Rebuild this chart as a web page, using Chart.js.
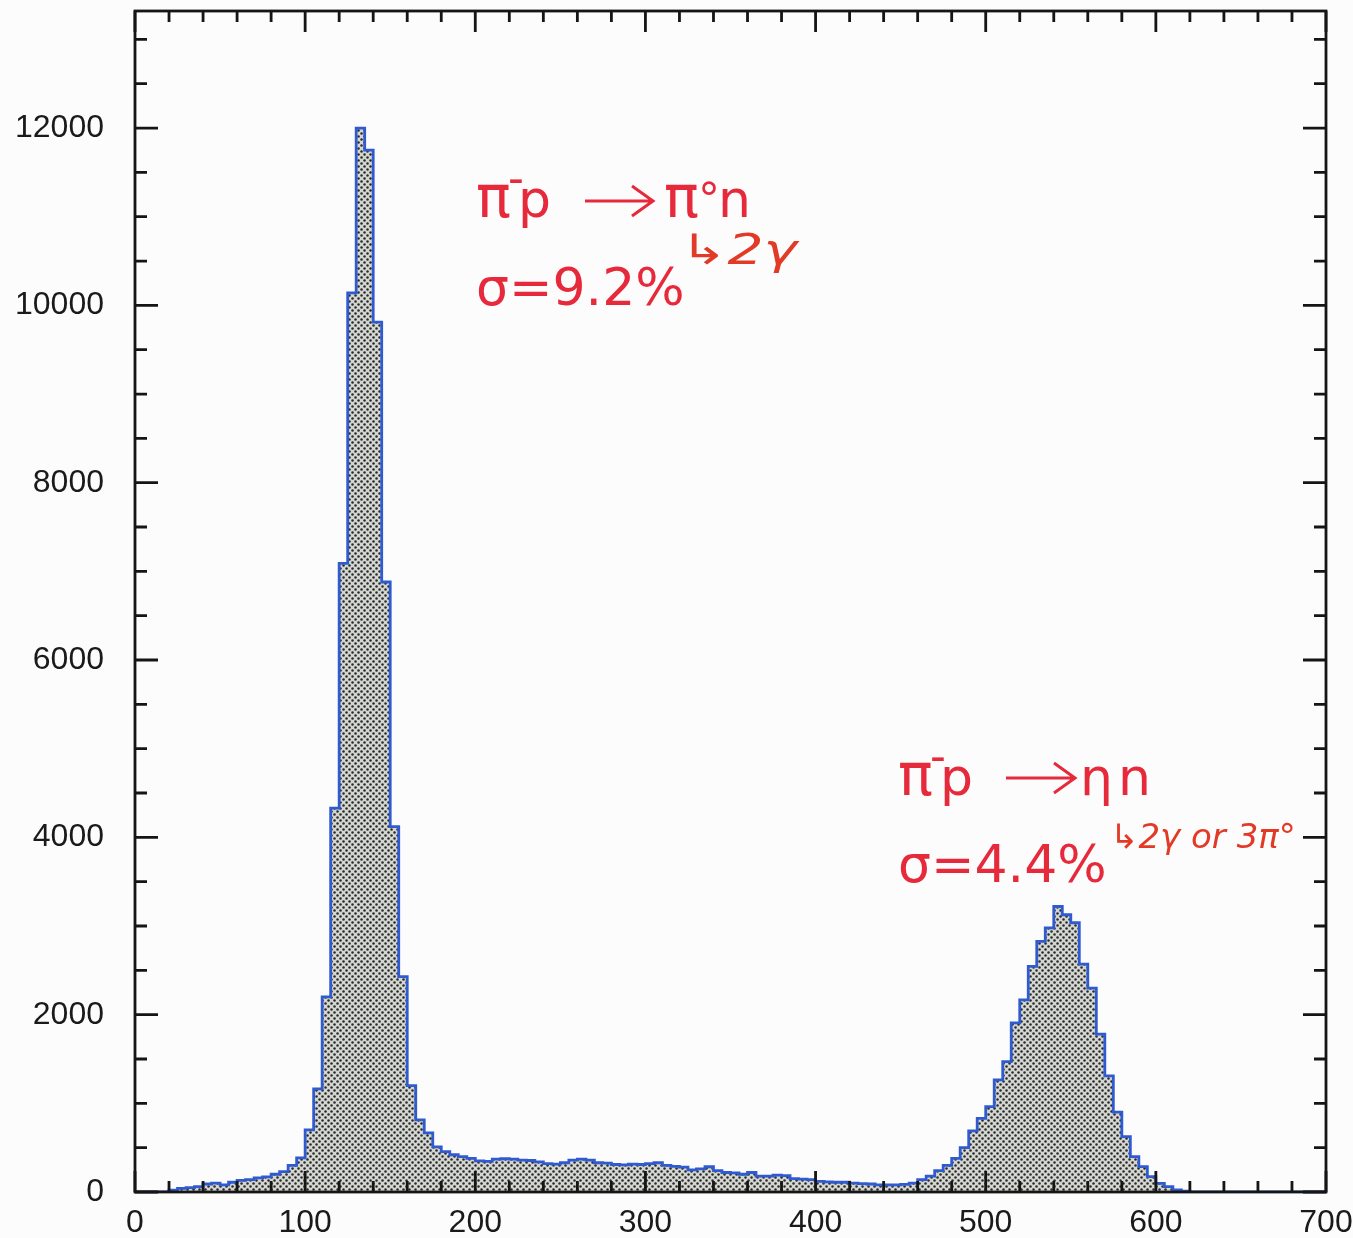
<!DOCTYPE html>
<html>
<head>
<meta charset="utf-8">
<script src="https://cdn.jsdelivr.net/npm/chart.js@4.4.1/dist/chart.umd.min.js"></script>
<style>
  html, body { margin: 0; padding: 0; background: #fdfcfc; }
  #wrap { width: 1353px; height: 1238px; }
</style>
</head>
<body>
<div id="wrap"><canvas id="histo" width="1353" height="1238"></canvas></div>
<script>
// bin width in MeV-ish units, bins start at 0
const BIN_WIDTH = 5;
const X_MAX = 700;
const Y_MAX = 13320;

// counts per bin, 10 bins (50 units) per row
const counts = [
  0, 0, 0, 0, 20, 40, 50, 60, 90, 100,
  80, 110, 130, 140, 160, 170, 200, 230, 300, 384,
  700, 1163, 2200, 4330, 7090, 10140, 12000, 11750, 9810, 6880,
  4120, 2430, 1200, 813, 666, 510, 455, 420, 400, 380,
  350, 345, 370, 375, 370, 360, 355, 340, 320, 315,
  330, 360, 370, 360, 330, 325, 310, 305, 315, 310,
  320, 330, 300, 290, 280, 250, 260, 285, 240, 220,
  215, 200, 220, 180, 180, 190, 185, 150, 145, 140,
  120, 115, 110, 110, 100, 95, 90, 80, 80, 80,
  85, 100, 140, 180, 240, 300, 380, 500, 690, 830,
  963, 1264, 1471, 1907, 2168, 2544, 2826, 2980, 3220, 3127,
  3037, 2570, 2300, 1780, 1310, 900, 624, 400, 286, 173,
  98, 60, 23, 10, 0, 0, 0, 0, 0, 0,
  0, 0, 0, 0, 0, 0, 0, 0, 0, 0
];

const xTickLabels = [0, 100, 200, 300, 400, 500, 600, 700];
const yTickLabels = [0, 2000, 4000, 6000, 8000, 10000, 12000];

// one point per left bin edge, plus the closing right edge
const points = counts.map((c, i) => ({ x: i * BIN_WIDTH, y: c }));
points.push({ x: counts.length * BIN_WIDTH, y: counts[counts.length - 1] });

function dotPattern() {
  const c = document.createElement("canvas");
  c.width = 6; c.height = 6;
  const g = c.getContext("2d");
  g.fillStyle = "#d3d7ce";
  g.fillRect(0, 0, 6, 6);
  g.fillStyle = "#2a2732";
  [[1.5, 1.5], [4.5, 4.5]].forEach(([x, y]) => {
    g.beginPath();
    g.arc(x, y, 1.25, 0, Math.PI * 2);
    g.fill();
  });
  return g.createPattern(c, "repeat");
}

// frame with inward ticks on all four sides
const frameTicks = {
  id: "frameTicks",
  afterDatasetsDraw(chart) {
    const { ctx, chartArea: a, scales: { x, y } } = chart;
    ctx.save();
    ctx.strokeStyle = "#151515";
    ctx.lineWidth = 2.8;
    ctx.strokeRect(a.left, a.top, a.right - a.left, a.bottom - a.top);
    ctx.beginPath();
    for (let v = 0; v <= X_MAX; v += 20) {
      const px = x.getPixelForValue(v);
      const len = v % 100 === 0 ? 21 : 11;
      ctx.moveTo(px, a.bottom); ctx.lineTo(px, a.bottom - len);
      ctx.moveTo(px, a.top); ctx.lineTo(px, a.top + len);
    }
    for (let v = 0; v <= Y_MAX; v += 500) {
      const py = y.getPixelForValue(v);
      const len = v % 2000 === 0 ? 23 : 12;
      ctx.moveTo(a.left, py); ctx.lineTo(a.left + len, py);
      ctx.moveTo(a.right, py); ctx.lineTo(a.right - len, py);
    }
    ctx.stroke();
    ctx.restore();
  }
};

// reaction labels written on the plot
const notes = {
  id: "notes",
  afterDraw(chart) {
    const ctx = chart.ctx;
    const red = "#e62a3c";
    const hand = "#e23a26";
    ctx.save();
    ctx.strokeStyle = red;
    ctx.textBaseline = "alphabetic";
    const big = "52px 'DejaVu Sans'";
    const pi = "58px 'DejaVu Sans'";
    function txt(s, x, yy, font, color) {
      ctx.font = font;
      ctx.fillStyle = color || red;
      ctx.fillText(s, x, yy);
    }
    function arrow(x0, x1, yy) {
      ctx.lineWidth = 3;
      ctx.beginPath();
      ctx.moveTo(x0, yy); ctx.lineTo(x1, yy);
      ctx.moveTo(x1 - 21, yy - 15); ctx.lineTo(x1, yy); ctx.lineTo(x1 - 21, yy + 15);
      ctx.stroke();
    }
    // pi- p -> pi0 n
    txt("π", 476, 217, pi);
    txt("-", 508, 193, "44px 'DejaVu Sans'");
    txt("p", 518, 217, big);
    arrow(585, 653, 201);
    txt("π", 664, 217, pi);
    txt("°", 698, 214, "44px 'DejaVu Sans'");
    txt("n", 718, 217, big);
    txt("σ=9.2%", 476, 305, big);
    ctx.save();
    ctx.translate(680, 264);
    ctx.scale(1.35, 1);
    txt("↳2γ", 0, 0, "italic 42px 'DejaVu Sans'", hand);
    ctx.restore();

    // pi- p -> eta n
    txt("π", 898, 795, pi);
    txt("-", 930, 771, "44px 'DejaVu Sans'");
    txt("p", 940, 795, big);
    arrow(1006, 1075, 778);
    txt("η", 1080, 795, big);
    txt("n", 1118, 795, big);
    txt("σ=4.4%", 898, 882, big);
    txt("↳2γ or 3π°", 1110, 848, "italic 34px 'DejaVu Sans'", hand);
    ctx.restore();
  }
};

const tickFont = { family: "'Liberation Sans', Arial, sans-serif", size: 32 };

new Chart(document.getElementById("histo"), {
  type: "line",
  data: {
    datasets: [{
      data: points,
      stepped: "before",
      fill: "origin",
      backgroundColor: dotPattern(),
      borderColor: "#2f5ad0",
      borderWidth: 2.8,
      pointRadius: 0
    }]
  },
  options: {
    responsive: false,
    animation: false,
    devicePixelRatio: 1,
    layout: { padding: { top: 11, right: 27, left: 0, bottom: 0 } },
    plugins: { legend: { display: false }, tooltip: { enabled: false } },
    scales: {
      x: {
        type: "linear",
        min: 0,
        max: X_MAX,
        grid: { display: false, drawTicks: false },
        border: { display: false },
        afterFit: s => { s.height = 46; s.paddingLeft = 0; s.paddingRight = 0; },
        afterBuildTicks: s => { s.ticks = xTickLabels.map(v => ({ value: v })); },
        ticks: { font: tickFont, color: "#1a1a1a", padding: 12, maxRotation: 0, autoSkip: false, callback: v => String(v) }
      },
      y: {
        type: "linear",
        min: 0,
        max: Y_MAX,
        grid: { display: false, drawTicks: false },
        border: { display: false },
        afterFit: s => { s.width = 135; s.paddingTop = 0; s.paddingBottom = 0; },
        afterBuildTicks: s => { s.ticks = yTickLabels.map(v => ({ value: v })); },
        ticks: { font: tickFont, color: "#1a1a1a", padding: 31, callback: v => String(v) }
      }
    }
  },
  plugins: [frameTicks, notes]
});
</script>
</body>
</html>
